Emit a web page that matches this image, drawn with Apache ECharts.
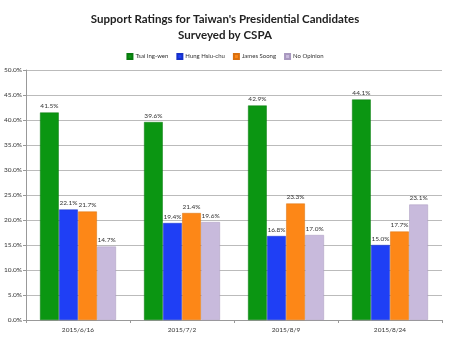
<!DOCTYPE html>
<html><head><meta charset="utf-8">
<script src="https://cdn.jsdelivr.net/npm/echarts@6/dist/echarts.min.js"></script>
<style>html,body{margin:0;padding:0;background:#fff}#c{width:450px;height:338px}</style>
</head><body><div id="c"></div>
<script>
const categories = ['2015/6/16', '2015/7/2', '2015/8/9', '2015/8/24'];
const seriesNames = ['Tsai Ing-wen', 'Hung Hsiu-chu', 'James Soong', 'No Opinion'];
const tsai = [41.5, 39.6, 42.9, 44.1];
const hung = [22.1, 19.4, 16.8, 15.0];
const soong = [21.7, 21.4, 23.3, 17.7];
const noOpinion = [14.7, 19.6, 17.0, 23.1];
const yTicks = [0, 5, 10, 15, 20, 25, 30, 35, 40, 45, 50];
const colors = ['#0b9612', '#1f3ff5', '#fd8717', '#c8badc'];
const borders = ['#087a0e', '#1630c8', '#d9700f', '#a898bf'];
const values = [tsai, hung, soong, noOpinion];

const chart = echarts.init(document.getElementById('c'));
const font = 'Lato';
chart.setOption({
  animation: false,
  title: {
    text: "Support Ratings for Taiwan's Presidential Candidates\nSurveyed by CSPA",
    left: 'center', top: 6,
    textStyle: { fontFamily: font, fontSize: 11.5, fontWeight: 'bold', color: '#222', lineHeight: 16 }
  },
  legend: {
    top: 48, left: 'center', itemWidth: 5, itemHeight: 5, itemGap: 8,
    icon: 'rect',
    textStyle: { fontFamily: font, fontSize: 6, color: '#333', padding: [0, 0, 0, -2] },
    data: seriesNames
  },
  grid: { left: 26, right: 8, top: 70, bottom: 18, containLabel: false },
  xAxis: {
    type: 'category', data: categories,
    axisLine: { lineStyle: { color: '#999' } },
    axisTick: { show: true, alignWithLabel: false, length: 3, lineStyle: { color: '#999' } },
    axisLabel: { fontFamily: font, fontSize: 6.5, color: '#333', margin: 6 }
  },
  yAxis: {
    type: 'value', min: 0, max: 50, interval: 5,
    axisLine: { show: true, lineStyle: { color: '#999' } },
    axisTick: { show: true, length: 3, lineStyle: { color: '#999' } },
    splitLine: { lineStyle: { color: '#bbb' } },
    axisLabel: { fontFamily: font, fontSize: 6.5, color: '#333', margin: 4,
      formatter: v => v.toFixed(1) + '%' }
  },
  series: seriesNames.map((n, i) => ({
    name: n, type: 'bar', data: values[i],
    barGap: '2%', barCategoryGap: '27%',
    itemStyle: { color: colors[i], borderColor: borders[i], borderWidth: 0.5 },
    label: { show: true, position: 'top', distance: 3, fontFamily: font, fontSize: 6.5, color: '#333',
      formatter: p => p.value.toFixed(1) + '%' }
  }))
});
</script></body></html>
